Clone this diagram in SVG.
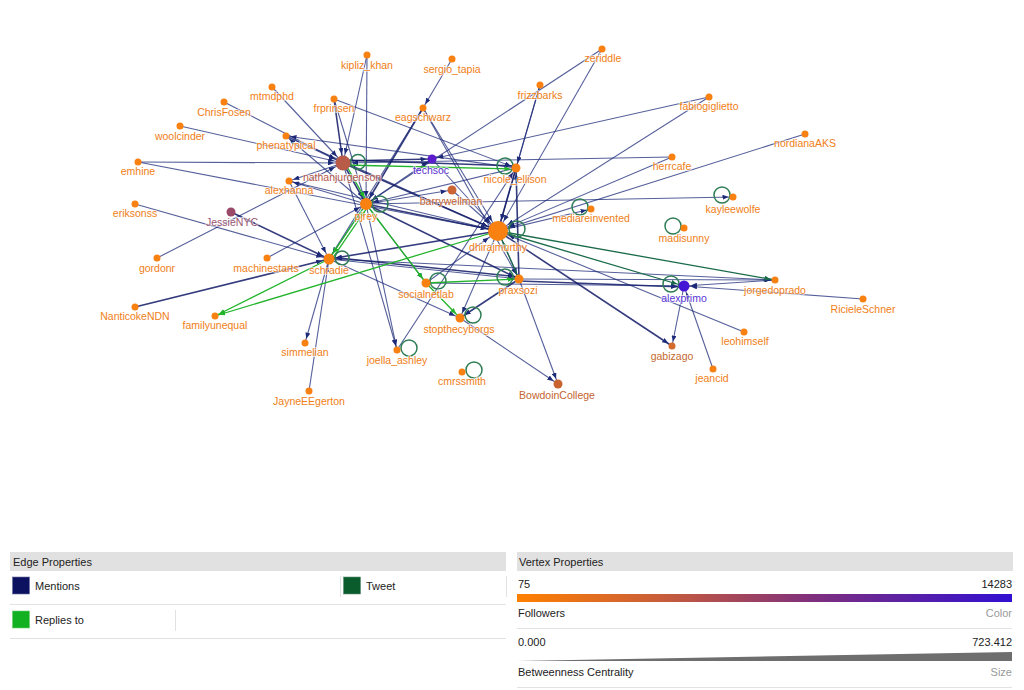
<svg xmlns="http://www.w3.org/2000/svg" width="1024" height="690" viewBox="0 0 1024 690">
<style>
.m{stroke:#1c2a78;stroke-opacity:.75;stroke-width:1.1;fill:none}
.mt{stroke:#101a66;stroke-opacity:.85;stroke-width:1.6;fill:none}
.r{stroke:#22b42a;stroke-width:1.3;fill:none}
.t{stroke:#1a6b4a;stroke-width:1.3;fill:none}
.loop{stroke:#2e7d55;stroke-width:1.5;fill:none}
.lbl{font-family:"Liberation Sans",Arial,sans-serif;font-size:10.5px;text-anchor:middle;fill:#f07e16;stroke:#fff;stroke-width:2;stroke-opacity:.6;paint-order:stroke}
.o{fill:#f98112}
.lg{font-family:"Liberation Sans",Arial,sans-serif;font-size:11px;fill:#222}
.lgr{font-family:"Liberation Sans",Arial,sans-serif;font-size:11px;fill:#999;text-anchor:end}
.sep{stroke:#e2e2e2;stroke-width:1}
</style>
<defs>
<marker id="ma" markerUnits="userSpaceOnUse" markerWidth="7" markerHeight="5" refX="10.5" refY="2.5" orient="auto"><path d="M0,0L6,2.5L0,5z" fill="#1c2a78"/></marker>
<marker id="mb" markerUnits="userSpaceOnUse" markerWidth="7" markerHeight="5" refX="11.5" refY="2.5" orient="auto"><path d="M0,0L6,2.5L0,5z" fill="#1c2a78"/></marker>
<marker id="mc" markerUnits="userSpaceOnUse" markerWidth="7" markerHeight="5" refX="13" refY="2.5" orient="auto"><path d="M0,0L6,2.5L0,5z" fill="#1c2a78"/></marker>
<marker id="md" markerUnits="userSpaceOnUse" markerWidth="7" markerHeight="5" refX="15" refY="2.5" orient="auto"><path d="M0,0L6,2.5L0,5z" fill="#1c2a78"/></marker>
<marker id="me" markerUnits="userSpaceOnUse" markerWidth="7" markerHeight="5" refX="17.5" refY="2.5" orient="auto"><path d="M0,0L6,2.5L0,5z" fill="#1c2a78"/></marker>
<marker id="ra" markerUnits="userSpaceOnUse" markerWidth="7" markerHeight="5" refX="10.5" refY="2.5" orient="auto"><path d="M0,0L6,2.5L0,5z" fill="#22b42a"/></marker>
<marker id="rb" markerUnits="userSpaceOnUse" markerWidth="7" markerHeight="5" refX="11.5" refY="2.5" orient="auto"><path d="M0,0L6,2.5L0,5z" fill="#22b42a"/></marker>
<marker id="rc" markerUnits="userSpaceOnUse" markerWidth="7" markerHeight="5" refX="13" refY="2.5" orient="auto"><path d="M0,0L6,2.5L0,5z" fill="#22b42a"/></marker>
<marker id="ta" markerUnits="userSpaceOnUse" markerWidth="7" markerHeight="5" refX="10.5" refY="2.5" orient="auto"><path d="M0,0L6,2.5L0,5z" fill="#1a6b4a"/></marker>
<marker id="tc" markerUnits="userSpaceOnUse" markerWidth="7" markerHeight="5" refX="13" refY="2.5" orient="auto"><path d="M0,0L6,2.5L0,5z" fill="#1a6b4a"/></marker>
<marker id="te" markerUnits="userSpaceOnUse" markerWidth="7" markerHeight="5" refX="17.5" refY="2.5" orient="auto"><path d="M0,0L6,2.5L0,5z" fill="#1a6b4a"/></marker>
<linearGradient id="fol" x1="0" x2="1" y1="0" y2="0">
<stop offset="0" stop-color="#ff8000"/><stop offset="0.3" stop-color="#c65c3c"/><stop offset="0.6" stop-color="#7e2f7e"/><stop offset="1" stop-color="#3210d2"/>
</linearGradient>
</defs>
<rect width="1024" height="690" fill="#fff"/>

<g id="connectors">
<g id="mentions">
<line class="m" x1="367" y1="55" x2="343" y2="163" marker-end="url(#md)"/>
<line class="m" x1="367" y1="55" x2="366" y2="204" marker-end="url(#mc)"/>
<line class="m" x1="452" y1="59" x2="423" y2="108" marker-end="url(#ma)"/>
<line class="mt" x1="423" y1="108" x2="366" y2="204" marker-end="url(#mc)"/>
<line class="m" x1="423" y1="108" x2="329" y2="259" marker-end="url(#mc)"/>
<line class="m" x1="423" y1="108" x2="498" y2="231" marker-end="url(#me)"/>
<line class="m" x1="423" y1="108" x2="519" y2="279" marker-end="url(#mb)"/>
<line class="m" x1="602" y1="49" x2="366" y2="204" marker-end="url(#mc)"/>
<line class="m" x1="602" y1="49" x2="498" y2="231" marker-end="url(#me)"/>
<line class="m" x1="540" y1="85" x2="516" y2="168" marker-end="url(#mb)"/>
<line class="m" x1="540" y1="85" x2="498" y2="231" marker-end="url(#me)"/>
<line class="m" x1="709" y1="97" x2="432" y2="159" marker-end="url(#mb)"/>
<line class="m" x1="709" y1="97" x2="498" y2="231" marker-end="url(#me)"/>
<line class="m" x1="805" y1="134" x2="498" y2="231" marker-end="url(#me)"/>
<line class="m" x1="672" y1="157" x2="343" y2="163" marker-end="url(#md)"/>
<line class="m" x1="672" y1="157" x2="498" y2="231" marker-end="url(#me)"/>
<line class="m" x1="366" y1="204" x2="733" y2="197" marker-end="url(#ma)"/>
<line class="m" x1="498" y1="231" x2="591" y2="209" marker-end="url(#ma)"/>
<line class="m" x1="775" y1="280" x2="684" y2="286" marker-end="url(#mc)"/>
<line class="m" x1="863" y1="299" x2="684" y2="286" marker-end="url(#mc)"/>
<line class="m" x1="744" y1="332" x2="498" y2="231" marker-end="url(#me)"/>
<line class="m" x1="713" y1="369" x2="684" y2="286" marker-end="url(#mc)"/>
<line class="m" x1="684" y1="286" x2="672" y2="346" marker-end="url(#ma)"/>
<line class="mt" x1="498" y1="231" x2="672" y2="346" marker-end="url(#ma)"/>
<line class="m" x1="519" y1="279" x2="775" y2="280" marker-end="url(#ma)"/>
<line class="mt" x1="519" y1="281" x2="684" y2="287" marker-end="url(#mc)"/>
<line class="m" x1="426" y1="283" x2="684" y2="286" marker-end="url(#mc)"/>
<line class="m" x1="329" y1="259" x2="775" y2="280" marker-end="url(#ma)"/>
<line class="m" x1="272" y1="87" x2="343" y2="163" marker-end="url(#md)"/>
<line class="m" x1="224" y1="102" x2="343" y2="163" marker-end="url(#md)"/>
<line class="m" x1="180" y1="126" x2="343" y2="163" marker-end="url(#md)"/>
<line class="m" x1="286" y1="136" x2="343" y2="163" marker-end="url(#md)"/>
<line class="m" x1="516" y1="168" x2="286" y2="136" marker-end="url(#ma)"/>
<line class="m" x1="286" y1="136" x2="498" y2="231" marker-end="url(#me)"/>
<line class="m" x1="366" y1="204" x2="286" y2="136" marker-end="url(#ma)"/>
<line class="m" x1="138" y1="162" x2="343" y2="163" marker-end="url(#md)"/>
<line class="m" x1="138" y1="162" x2="498" y2="231" marker-end="url(#me)"/>
<line class="m" x1="289" y1="181" x2="329" y2="259" marker-end="url(#mc)"/>
<line class="m" x1="366" y1="204" x2="289" y2="181" marker-end="url(#ma)"/>
<line class="m" x1="289" y1="181" x2="498" y2="231" marker-end="url(#me)"/>
<line class="m" x1="343" y1="163" x2="289" y2="181" marker-end="url(#ma)"/>
<line class="m" x1="157" y1="258" x2="343" y2="163" marker-end="url(#md)"/>
<line class="m" x1="135" y1="204" x2="329" y2="259" marker-end="url(#mc)"/>
<line class="mt" x1="231" y1="212" x2="329" y2="259" marker-end="url(#mc)"/>
<line class="m" x1="267" y1="258" x2="366" y2="204" marker-end="url(#mc)"/>
<line class="mt" x1="135" y1="307" x2="329" y2="259" marker-end="url(#mc)"/>
<line class="m" x1="329" y1="259" x2="305" y2="343" marker-end="url(#ma)"/>
<line class="m" x1="309" y1="391" x2="329" y2="259" marker-end="url(#mc)"/>
<line class="m" x1="397" y1="350" x2="516" y2="168" marker-end="url(#mb)"/>
<line class="m" x1="366" y1="204" x2="397" y2="350" marker-end="url(#ma)"/>
<line class="m" x1="343" y1="163" x2="397" y2="350" marker-end="url(#ma)"/>
<line class="m" x1="498" y1="231" x2="460" y2="318" marker-end="url(#mb)"/>
<line class="mt" x1="519" y1="279" x2="460" y2="318" marker-end="url(#mb)"/>
<line class="m" x1="329" y1="259" x2="460" y2="318" marker-end="url(#mb)"/>
<line class="m" x1="460" y1="318" x2="558" y2="384" marker-end="url(#mb)"/>
<line class="m" x1="519" y1="279" x2="558" y2="384" marker-end="url(#mb)"/>
<line class="m" x1="426" y1="283" x2="498" y2="231" marker-end="url(#me)"/>
<line class="m" x1="366" y1="204" x2="426" y2="283" marker-end="url(#mb)"/>
<line class="mt" x1="519" y1="279" x2="516" y2="168" marker-end="url(#mb)"/>
<line class="m" x1="498" y1="231" x2="519" y2="279" marker-end="url(#mb)"/>
<line class="mt" x1="366" y1="204" x2="519" y2="279" marker-end="url(#mb)"/>
<line class="m" x1="329" y1="259" x2="519" y2="279" marker-end="url(#mb)"/>
<line class="mt" x1="519" y1="277" x2="329" y2="257" marker-end="url(#mc)"/>
<line class="mt" x1="334" y1="99" x2="343" y2="163" marker-end="url(#md)"/>
<line class="m" x1="334" y1="99" x2="366" y2="204" marker-end="url(#mc)"/>
<line class="m" x1="334" y1="99" x2="516" y2="168" marker-end="url(#mb)"/>
<line class="mt" x1="343" y1="161" x2="432" y2="159" marker-end="url(#mb)"/>
<line class="m" x1="366" y1="204" x2="432" y2="159" marker-end="url(#mb)"/>
<line class="mt" x1="343" y1="160" x2="516" y2="166" marker-end="url(#mb)"/>
<line class="mt" x1="516" y1="168" x2="498" y2="231" marker-end="url(#me)"/>
<line class="m" x1="516" y1="168" x2="366" y2="204" marker-end="url(#mc)"/>
<line class="mt" x1="366" y1="204" x2="498" y2="231" marker-end="url(#me)"/>
<line class="mt" x1="343" y1="163" x2="498" y2="231" marker-end="url(#me)"/>
<line class="m" x1="432" y1="159" x2="498" y2="231" marker-end="url(#me)"/>
<line class="m" x1="366" y1="204" x2="452" y2="190" marker-end="url(#mb)"/>
<line class="m" x1="452" y1="190" x2="498" y2="231" marker-end="url(#me)"/>
<line class="mt" x1="498" y1="231" x2="329" y2="259" marker-end="url(#mc)"/>
<line class="m" x1="366" y1="204" x2="329" y2="259" marker-end="url(#mc)"/>
<line class="mt" x1="343" y1="163" x2="366" y2="204" marker-end="url(#mc)"/>
</g>
<g id="replies">
<line class="r" x1="345" y1="163" x2="368" y2="204" marker-end="url(#rc)"/>
<line class="r" x1="366" y1="204" x2="329" y2="259" marker-end="url(#rc)"/>
<line class="r" x1="332" y1="259" x2="369" y2="205" marker-end="url(#rc)"/>
<line class="r" x1="366" y1="204" x2="426" y2="283" marker-end="url(#rb)"/>
<line class="r" x1="426" y1="283" x2="519" y2="279" marker-end="url(#rb)"/>
<line class="r" x1="498" y1="231" x2="215" y2="316" marker-end="url(#ra)"/>
<line class="r" x1="329" y1="259" x2="215" y2="316" marker-end="url(#ra)"/>
<line class="r" x1="343" y1="165" x2="516" y2="169" marker-end="url(#rb)"/>
<line class="r" x1="426" y1="283" x2="460" y2="318" marker-end="url(#rb)"/>
</g>
<g id="tweets">
<line class="t" x1="498" y1="231" x2="775" y2="280" marker-end="url(#ta)"/>
<line class="t" x1="498" y1="231" x2="684" y2="286" marker-end="url(#tc)"/>
<line class="t" x1="519" y1="279" x2="498" y2="231" marker-end="url(#te)"/>
<circle class="loop" cx="358" cy="162" r="7.5"/>
<circle class="loop" cx="380" cy="204" r="8"/>
<circle class="loop" cx="505" cy="166" r="8"/>
<circle class="loop" cx="517" cy="229" r="8"/>
<circle class="loop" cx="505" cy="277" r="8"/>
<circle class="loop" cx="342" cy="258" r="7"/>
<circle class="loop" cx="438" cy="281" r="8"/>
<circle class="loop" cx="473" cy="315" r="8"/>
<circle class="loop" cx="409" cy="348" r="8"/>
<circle class="loop" cx="474" cy="370" r="8"/>
<circle class="loop" cx="722" cy="195" r="8"/>
<circle class="loop" cx="580" cy="207" r="8"/>
<circle class="loop" cx="673" cy="226" r="8"/>
<circle class="loop" cx="671" cy="284" r="8"/>
</g>
</g>

<g id="nodes">
<g id="n-kipliz_khan"><circle class="o" cx="367" cy="55" r="3.5"/><text class="lbl" x="367" y="69">kipliz_khan</text></g>
<g id="n-sergio_tapia"><circle class="o" cx="452" cy="59" r="3.5"/><text class="lbl" x="452" y="73">sergio_tapia</text></g>
<g id="n-zeriddle"><circle class="o" cx="602" cy="49" r="3.5"/><text class="lbl" x="603" y="62">zeriddle</text></g>
<g id="n-frizzbarks"><circle class="o" cx="540" cy="85" r="3.5"/><text class="lbl" x="540" y="99">frizzbarks</text></g>
<g id="n-fabiogiglietto"><circle class="o" cx="709" cy="97" r="3.5"/><text class="lbl" x="709" y="110">fabiogiglietto</text></g>
<g id="n-mtmdphd"><circle class="o" cx="272" cy="87" r="3.5"/><text class="lbl" x="272" y="100">mtmdphd</text></g>
<g id="n-ChrisFosen"><circle class="o" cx="224" cy="102" r="3.5"/><text class="lbl" x="224" y="116">ChrisFosen</text></g>
<g id="n-frprinsen"><circle class="o" cx="334" cy="99" r="3.5"/><text class="lbl" x="334" y="112">frprinsen</text></g>
<g id="n-eagschwarz"><circle class="o" cx="423" cy="108" r="3.5"/><text class="lbl" x="423" y="121">eagschwarz</text></g>
<g id="n-woolcinder"><circle class="o" cx="180" cy="126" r="3.5"/><text class="lbl" x="180" y="140">woolcinder</text></g>
<g id="n-nordianaAKS"><circle class="o" cx="805" cy="134" r="3.5"/><text class="lbl" x="805" y="147">nordianaAKS</text></g>
<g id="n-phenatypical"><circle class="o" cx="286" cy="136" r="3.5"/><text class="lbl" x="286" y="149">phenatypical</text></g>
<g id="n-emhine"><circle class="o" cx="138" cy="162" r="3.5"/><text class="lbl" x="138" y="175">emhine</text></g>
<g id="n-herrcafe"><circle class="o" cx="672" cy="157" r="3.5"/><text class="lbl" x="672" y="170">herrcafe</text></g>
<g id="n-alexhanna"><circle class="o" cx="289" cy="181" r="3.5"/><text class="lbl" x="289" y="194">alexhanna</text></g>
<g id="n-kayleewolfe"><circle class="o" cx="733" cy="197" r="3.5"/><text class="lbl" x="733" y="213">kayleewolfe</text></g>
<g id="n-mediareinvented"><circle class="o" cx="591" cy="209" r="3.5"/><text class="lbl" x="591" y="222">mediareinvented</text></g>
<g id="n-eriksonss"><circle class="o" cx="135" cy="204" r="3.5"/><text class="lbl" x="135" y="217">eriksonss</text></g>
<g id="n-madisunny"><circle class="o" cx="684" cy="228" r="3.5"/><text class="lbl" x="684" y="242">madisunny</text></g>
<g id="n-gordonr"><circle class="o" cx="157" cy="258" r="3.5"/><text class="lbl" x="157" y="272">gordonr</text></g>
<g id="n-machinestarts"><circle class="o" cx="267" cy="258" r="3.5"/><text class="lbl" x="266" y="272">machinestarts</text></g>
<g id="n-jorgedoprado"><circle class="o" cx="775" cy="280" r="3.5"/><text class="lbl" x="775" y="294">jorgedoprado</text></g>
<g id="n-RicieleSchner"><circle class="o" cx="863" cy="299" r="3.5"/><text class="lbl" x="863" y="313">RicieleSchner</text></g>
<g id="n-NanticokeNDN"><circle class="o" cx="135" cy="307" r="3.5"/><text class="lbl" x="135" y="320">NanticokeNDN</text></g>
<g id="n-familyunequal"><circle class="o" cx="215" cy="316" r="3.5"/><text class="lbl" x="215" y="329">familyunequal</text></g>
<g id="n-leohimself"><circle class="o" cx="744" cy="332" r="3.5"/><text class="lbl" x="745" y="345">leohimself</text></g>
<g id="n-simmelian"><circle class="o" cx="305" cy="343" r="3.5"/><text class="lbl" x="305" y="356">simmelian</text></g>
<g id="n-joella_ashley"><circle class="o" cx="397" cy="350" r="3.5"/><text class="lbl" x="397" y="364">joella_ashley</text></g>
<g id="n-jeancid"><circle class="o" cx="713" cy="369" r="3.5"/><text class="lbl" x="712" y="382">jeancid</text></g>
<g id="n-cmrssmith"><circle class="o" cx="462" cy="372" r="3.5"/><text class="lbl" x="462" y="385">cmrssmith</text></g>
<g id="n-JayneEEgerton"><circle class="o" cx="309" cy="391" r="3.5"/><text class="lbl" x="309" y="405">JayneEEgerton</text></g>
<g id="n-gabizago"><circle cx="672" cy="346" r="3.5" fill="#d26b2c"/><text class="lbl" x="672" y="360" style="fill:#c4692e">gabizago</text></g>
<g id="n-JessieNYC"><circle cx="231" cy="212" r="4.5" fill="#9a4a68"/><text class="lbl" x="232" y="226" style="fill:#9b5470">JessieNYC</text></g>
<g id="n-barrywellman"><circle cx="452" cy="190" r="4.5" fill="#cc6535"/><text class="lbl" x="451" y="205" style="fill:#c4632e">barrywellman</text></g>
<g id="n-BowdoinCollege"><circle cx="558" cy="384" r="4.5" fill="#c9632f"/><text class="lbl" x="557" y="399" style="fill:#c4632e">BowdoinCollege</text></g>
<g id="n-techsoc"><circle cx="432" cy="159" r="4.5" fill="#5a1ccc"/><text class="lbl" x="431" y="174" style="fill:#5b2fd0">techsoc</text></g>
<g id="n-alexprimo"><circle cx="684" cy="286" r="5.5" fill="#4515d6"/><text class="lbl" x="684" y="302" style="fill:#5b35d8">alexprimo</text></g>
<g id="n-nicole_ellison"><circle class="o" cx="516" cy="168" r="4.5"/><text class="lbl" x="515" y="183">nicole_ellison</text></g>
<g id="n-socialnetlab"><circle class="o" cx="426" cy="283" r="4.5"/><text class="lbl" x="426" y="298">socialnetlab</text></g>
<g id="n-praxsozi"><circle class="o" cx="519" cy="279" r="4.5"/><text class="lbl" x="518" y="294">praxsozi</text></g>
<g id="n-stopthecyborgs"><circle class="o" cx="460" cy="318" r="4.5"/><text class="lbl" x="459" y="333">stopthecyborgs</text></g>
<g id="n-schradie"><circle class="o" cx="329" cy="259" r="5.5"/><text class="lbl" x="329" y="274">schradie</text></g>
<g id="n-pjrey"><circle class="o" cx="366" cy="204" r="6"/><text class="lbl" x="366" y="220">pjrey</text></g>
<g id="n-nathanjurgenson"><circle cx="343" cy="163" r="7.5" fill="#b85c49"/><text class="lbl" x="342" y="181" style="fill:#b5574a">nathanjurgenson</text></g>
<g id="n-dhirajmurthy"><circle class="o" cx="498" cy="231" r="10"/><text class="lbl" x="498" y="251">dhirajmurthy</text></g>
</g>

<g id="legend-edges">
<rect x="10" y="552" width="496" height="19" fill="#e1e1e1"/>
<text class="lg" x="13" y="566">Edge Properties</text>
<rect x="12.5" y="577" width="17" height="17" fill="#0c1160" stroke="#6a6fa0" stroke-width="0.6"/>
<text class="lg" x="35" y="590">Mentions</text>
<line class="sep" x1="340.5" y1="576" x2="340.5" y2="597"/>
<rect x="343.5" y="577" width="17" height="17" fill="#0b5c2c" stroke="#5e8f72" stroke-width="0.6"/>
<text class="lg" x="366" y="590">Tweet</text>
<line class="sep" x1="506.5" y1="576" x2="506.5" y2="597"/>
<line class="sep" x1="10" y1="604.5" x2="506" y2="604.5"/>
<rect x="12.5" y="611" width="17" height="17" fill="#12b122" stroke="#6ccf72" stroke-width="0.6"/>
<text class="lg" x="35" y="624">Replies to</text>
<line class="sep" x1="175.5" y1="610" x2="175.5" y2="631"/>
<line class="sep" x1="10" y1="638.5" x2="506" y2="638.5"/>
</g>

<g id="legend-vertices">
<rect x="517" y="552" width="496" height="19" fill="#e1e1e1"/>
<text class="lg" x="519" y="566">Vertex Properties</text>
<text class="lg" x="518" y="588">75</text>
<text class="lg" x="1012" y="588" text-anchor="end">14283</text>
<rect x="517" y="594" width="495" height="8" fill="url(#fol)"/>
<text class="lg" x="518" y="617">Followers</text>
<text class="lgr" x="1012" y="617">Color</text>
<line class="sep" x1="517" y1="628.5" x2="1012" y2="628.5"/>
<text class="lg" x="518" y="646">0.000</text>
<text class="lg" x="1012" y="646" text-anchor="end">723.412</text>
<polygon points="517,661 1012,652 1012,661" fill="#6e6e6e"/>
<text class="lg" x="518" y="676">Betweenness Centrality</text>
<text class="lgr" x="1012" y="676">Size</text>
<line class="sep" x1="517" y1="687.5" x2="1012" y2="687.5"/>
</g>
</svg>
